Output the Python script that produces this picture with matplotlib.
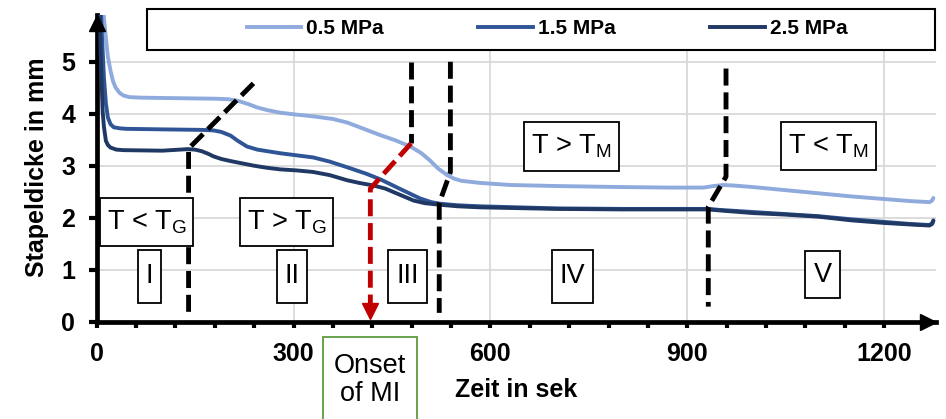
import matplotlib
matplotlib.use('Agg')
import matplotlib.pyplot as plt
import matplotlib.transforms as mtransforms
from matplotlib.patches import Rectangle
from matplotlib.lines import Line2D
import numpy as np

plt.rcParams['font.family'] = ['Liberation Sans', 'DejaVu Sans']
plt.rcParams['mathtext.fontset'] = 'custom'
plt.rcParams['mathtext.rm'] = 'Liberation Sans'

# Stapeldicke (mm) over Zeit (s) for three pressures
time_05 = [6, 9, 11, 14, 17, 21, 25, 29, 35, 41, 50, 67, 120, 180, 200, 215, 230, 245, 260, 280,
           300, 330, 360, 382, 405, 432, 455, 478, 495, 508, 520, 534, 545, 556, 570, 584, 630,
           700, 800, 874, 925, 940, 955, 970, 1000, 1050, 1100, 1150, 1200, 1240, 1269, 1273, 1275]
thick_05 = [6.4, 6.1, 5.85, 5.45, 5.1, 4.83, 4.62, 4.5, 4.4, 4.35, 4.32, 4.31, 4.3, 4.29, 4.28,
            4.25, 4.19, 4.12, 4.07, 4.02, 3.99, 3.95, 3.9, 3.83, 3.72, 3.59, 3.49, 3.37, 3.24,
            3.1, 2.95, 2.82, 2.75, 2.71, 2.69, 2.67, 2.63, 2.61, 2.59, 2.58, 2.58, 2.61, 2.63,
            2.62, 2.59, 2.53, 2.47, 2.41, 2.36, 2.32, 2.3, 2.33, 2.38]

time_15 = [5, 8, 11, 14, 17, 21, 26, 35, 45, 100, 160, 178, 190, 204, 215, 229, 245, 260, 280,
           305, 330, 355, 382, 410, 432, 463, 493, 510, 523, 550, 584, 700, 800, 932, 950, 1000,
           1050, 1100, 1150, 1200, 1240, 1269, 1273, 1275]
thick_15 = [6.4, 5.5, 4.7, 4.2, 3.93, 3.8, 3.74, 3.72, 3.71, 3.7, 3.69, 3.68, 3.65, 3.58, 3.48,
            3.37, 3.31, 3.28, 3.24, 3.2, 3.16, 3.08, 2.97, 2.85, 2.74, 2.55, 2.37, 2.3, 2.27,
            2.24, 2.22, 2.18, 2.17, 2.17, 2.15, 2.11, 2.07, 2.03, 1.97, 1.92, 1.88, 1.86, 1.89,
            1.95]

time_25 = [4, 6, 9, 11, 14, 17, 21, 30, 41, 100, 139, 150, 160, 170, 178, 190, 204, 220, 240,
           260, 280, 305, 330, 355, 382, 400, 422, 440, 453, 468, 483, 500, 523, 550, 584, 700,
           800, 932, 950, 1000, 1050, 1100, 1150, 1200, 1240, 1269, 1273, 1275]
thick_25 = [6.4, 5.2, 4.06, 3.75, 3.48, 3.4, 3.35, 3.31, 3.3, 3.29, 3.32, 3.31, 3.28, 3.23,
            3.18, 3.13, 3.09, 3.05, 3.0, 2.96, 2.93, 2.91, 2.88, 2.82, 2.72, 2.67, 2.62, 2.56,
            2.49, 2.41, 2.33, 2.28, 2.25, 2.22, 2.2, 2.17, 2.16, 2.16, 2.14, 2.09, 2.06, 2.02,
            1.95, 1.9, 1.87, 1.85, 1.88, 1.94]

series_labels = ['0.5 MPa', '1.5 MPa', '2.5 MPa']
colors = ['#8faadc', '#2f5597', '#203864']

xticks = [0, 300, 600, 900, 1200]
yticks = [0, 1, 2, 3, 4, 5]

fig = plt.figure(figsize=(9.46, 4.19), dpi=100)
W, H = 946, 419
ax = fig.add_axes([96.7 / W, 1 - 321.7 / H, (936 - 96.7) / W, (321.7 - 15) / H])
ax.set_xlim(0, 1279)
ax.set_ylim(0, 5.9)

for t, d, c in [(time_05, thick_05, colors[0]), (time_15, thick_15, colors[1]),
                (time_25, thick_25, colors[2])]:
    ax.plot(t, d, color=c, lw=2.8, solid_capstyle='round', solid_joinstyle='round', zorder=3)

# axes styling
for s in ['top', 'right']:
    ax.spines[s].set_visible(False)
for s in ['left', 'bottom']:
    ax.spines[s].set_linewidth(3.4)
ax.set_xticks(xticks)
ax.set_xticks(np.arange(0, 1279, 60), minor=True)
ax.set_yticks(yticks)
ax.tick_params(axis='both', which='both', direction='out', width=3, labelsize=18, pad=10)
ax.tick_params(axis='x', which='both', length=4.5)
ax.tick_params(axis='y', length=5.5)
for lab in ax.get_xticklabels() + ax.get_yticklabels():
    lab.set_fontweight('bold')
ax.grid(True, which='major', color='#d9d9d9', lw=1.3, zorder=0)
ax.set_axisbelow(True)

# arrow heads on the axes
up = mtransforms.offset_copy(ax.transAxes, fig=fig, y=-8, units='dots')
ax.plot([0], [1], marker='^', ms=11.5, color='black', transform=up, clip_on=False, zorder=6)
rt = mtransforms.offset_copy(ax.transAxes, fig=fig, x=-8, units='dots')
ax.plot([1], [0], marker='>', ms=11.5, color='black', transform=rt, clip_on=False, zorder=6)

# phase borders
dash = (0, (3.5, 1.4))
ax.plot([140, 140, 244], [0.19, 3.33, 4.65], color='black', lw=3.5, ls=dash, zorder=4)
ax.plot([479, 479], [5.0, 3.43], color='black', lw=3.5, ls=dash, zorder=4)
ax.plot([539, 539, 522, 522], [5.0, 2.88, 2.28, 0.17], color='black', lw=3.5, ls=dash, zorder=4)
ax.plot([959, 959, 932, 932], [4.87, 2.79, 2.21, 0.29], color='black', lw=3.5, ls=dash, zorder=4)
ax.plot([479, 417, 417], [3.43, 2.56, 0.3], color='#c00000', lw=3.5, ls=dash, zorder=4)
ax.plot([417], [0.2], marker='v', ms=11, color='#c00000', zorder=4)


def box(x0, x1, y0, y1, txt):
    ax.add_patch(Rectangle((x0, y0), x1 - x0, y1 - y0, fc='white', ec='black', lw=1.3, zorder=5))
    ax.text((x0 + x1) / 2, (y0 + y1) / 2, txt, ha='center', va='center', fontsize=19.5, zorder=6)


box(5, 147, 1.46, 2.38, r'T < T$\mathregular{_G}$')
box(219, 360, 1.46, 2.38, r'T > T$\mathregular{_G}$')
box(651, 796, 2.9, 3.84, r'T > T$\mathregular{_M}$')
box(1043, 1188, 2.92, 3.84, r'T < T$\mathregular{_M}$')
box(63, 98, 0.36, 1.38, 'I')
box(275, 321, 0.36, 1.38, 'II')
box(444, 504, 0.36, 1.38, 'III')
box(694, 756, 0.36, 1.38, 'IV')
box(1080, 1132, 0.455, 1.36, 'V')

# onset box below the axis
fig.add_artist(Rectangle((323 / W, -0.05), 94 / W, 1 - 337 / H + 0.05, transform=fig.transFigure,
                         fc='white', ec='#5b9b3c', lw=1.3))
fig.text(370 / W, 1 - 380 / H, 'Onset\nof MI', ha='center', va='center', fontsize=19.5,
         linespacing=1.1)

fig.text(37 / W, 1 - 167.5 / H, 'Stapeldicke in mm', rotation=90, ha='center', va='center',
         fontsize=18, fontweight='bold')
fig.text(516 / W, 1 - 390 / H, 'Zeit in sek', ha='center', va='center', fontsize=18,
         fontweight='bold')

# legend box
fig.add_artist(Rectangle((147 / W, 1 - 50 / H), (935 - 147) / W, 41 / H, transform=fig.transFigure,
                         fc='white', ec='black', lw=1.5, zorder=4))
handles = [Line2D([], [], color=c, lw=2.8) for c in colors]
fig.legend(handles, series_labels, loc='center', bbox_to_anchor=(547 / W, 1 - 29 / H), ncol=3,
           frameon=False, prop={'weight': 'bold', 'size': 15}, handlelength=2.6,
           handletextpad=0.25, columnspacing=4.55)

fig.savefig('out.png', dpi=100)
